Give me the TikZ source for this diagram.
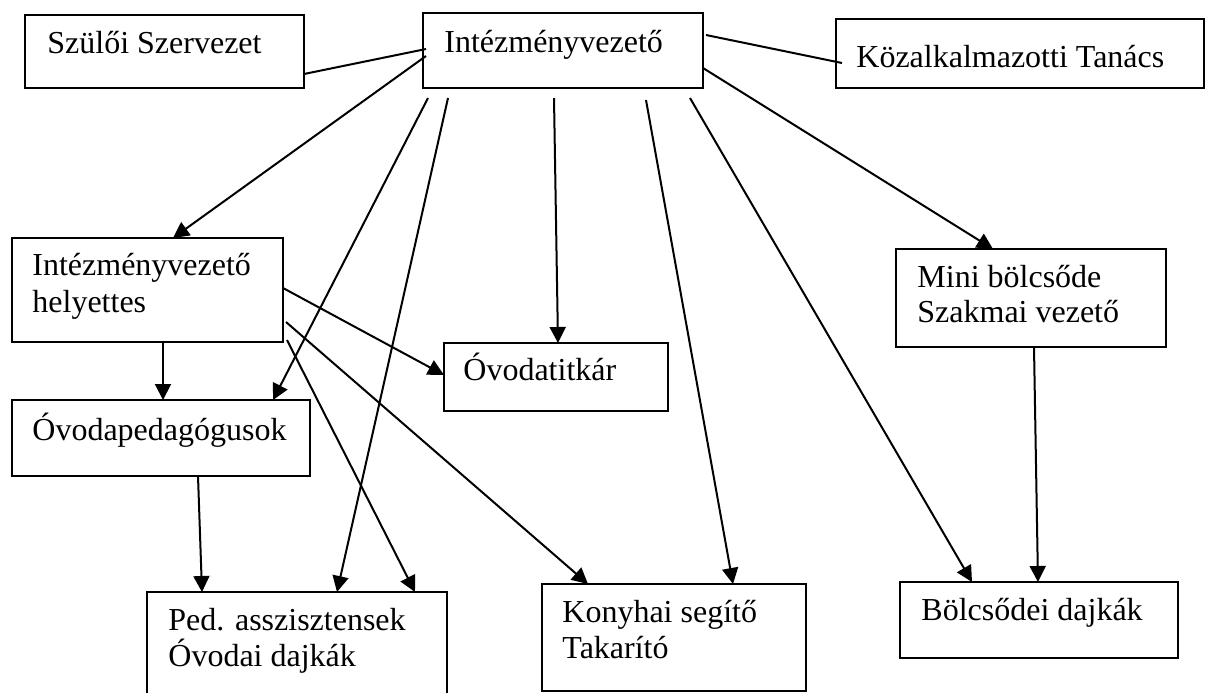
\documentclass[tikz,border=0pt]{standalone}
\usepackage{fontspec}
\setmainfont{Liberation Serif}
\usetikzlibrary{arrows.meta,calc}
\tikzset{
  box/.style={draw, line width=1pt, rectangle, inner sep=0pt, outer sep=0pt, anchor=north west},
  lbl/.style={anchor=base west, inner sep=0pt, font=\fontsize{16}{18}\selectfont},
  conn/.style={line width=1pt},
  arr/.style={conn, -{Triangle[length=8pt,width=8pt]}},
}
\begin{document}
\begin{tikzpicture}[x=0.5pt,y=-0.5pt]
\clip (0,0) rectangle (1205,692);
\fill[white] (0,0) rectangle (1205,692);
% boxes
\node[box, minimum width=279*0.5pt, minimum height=73*0.5pt] (szulo) at (25,15) {};
\node[box, minimum width=280*0.5pt, minimum height=75*0.5pt] (iv) at (423,13) {};
\node[box, minimum width=368*0.5pt, minimum height=69*0.5pt] (kozalk) at (836,19) {};
\node[box, minimum width=271*0.5pt, minimum height=104*0.5pt] (hely) at (12,238) {};
\node[box, minimum width=298*0.5pt, minimum height=76*0.5pt] (ovped) at (12,400) {};
\node[box, minimum width=224*0.5pt, minimum height=68*0.5pt] (titkar) at (444,343) {};
\node[box, minimum width=270*0.5pt, minimum height=98*0.5pt] (mini) at (896,249) {};
\node[box, minimum width=300*0.5pt, minimum height=120*0.5pt] (ped) at (147,592) {};
\node[box, minimum width=264*0.5pt, minimum height=107*0.5pt] (konyha) at (542,584) {};
\node[box, minimum width=278*0.5pt, minimum height=76*0.5pt] (bolcs) at (900,582) {};
% texts
\node[lbl] (tszulo) at (47,53) {Szülői Szervezet};
\node[lbl] (tiv) at (444,52) {Intézményvezető};
\node[lbl] (tkozalk) at (856,67) {Közalkalmazotti Tanács};
\node[lbl] (thely1) at (32,275) {Intézményvezető};
\node[lbl] (thely2) at (32,312) {helyettes};
\node[lbl] (tovped) at (32,440) {Óvodapedagógusok};
\node[lbl] (ttitkar) at (463,380) {Óvodatitkár};
\node[lbl] (tmini1) at (917,287) {Mini bölcsőde};
\node[lbl] (tmini2) at (917,322) {Szakmai vezető};
\node[lbl] (tped1) at (168,630) {Ped. asszisztensek};
\node[lbl] (tped2) at (168,666) {Óvodai dajkák};
\node[lbl] (tkonyha1) at (562,622) {Konyhai segítő};
\node[lbl] (tkonyha2) at (562,658) {Takarító};
\node[lbl] (tbolcs) at (921,620) {Bölcsődei dajkák};
% plain connectors
\draw[conn] ($(szulo.north west)+(279,59)$) -- ($(iv.north west)+(3,36)$);
\draw[conn] ($(iv.north west)+(283,22)$) -- ($(kozalk.north west)+(6,44)$);
% arrows from Intézményvezető
\draw[arr] ($(iv.north west)+(3,43)$) -- ($(hely.north west)+(161,0)$);
\draw[arr] ($(iv.north west)+(280,55)$) -- ($(mini.north west)+(97,0)$);
\draw[arr] ($(iv.north west)+(5,85)$) -- ($(ovped.north west)+(261,0)$);
\draw[arr] ($(iv.north west)+(25,85)$) -- ($(ped.north west)+(190,0)$);
\draw[arr] ($(iv.north west)+(131,85)$) -- ($(titkar.north west)+(114,0)$);
\draw[arr] ($(iv.north west)+(223,87)$) -- ($(konyha.north west)+(191,0)$);
\draw[arr] ($(iv.north west)+(267,85)$) -- ($(bolcs.north west)+(72,0)$);
% arrows from helyettes
\draw[arr] ($(hely.north west)+(151,104)$) -- ($(ovped.north west)+(151,0)$);
\draw[arr] ($(hely.north west)+(271,50)$) -- ($(titkar.north west)+(0,32)$);
\draw[arr] ($(hely.north west)+(274,84)$) -- ($(konyha.north west)+(46,0)$);
\draw[arr] ($(hely.north west)+(275,102)$) -- ($(ped.north west)+(268,0)$);
% others
\draw[arr] ($(ovped.north west)+(186,76)$) -- ($(ped.north west)+(55,0)$);
\draw[arr] ($(mini.north west)+(138,98)$) -- ($(bolcs.north west)+(138,0)$);
\end{tikzpicture}
\end{document}
